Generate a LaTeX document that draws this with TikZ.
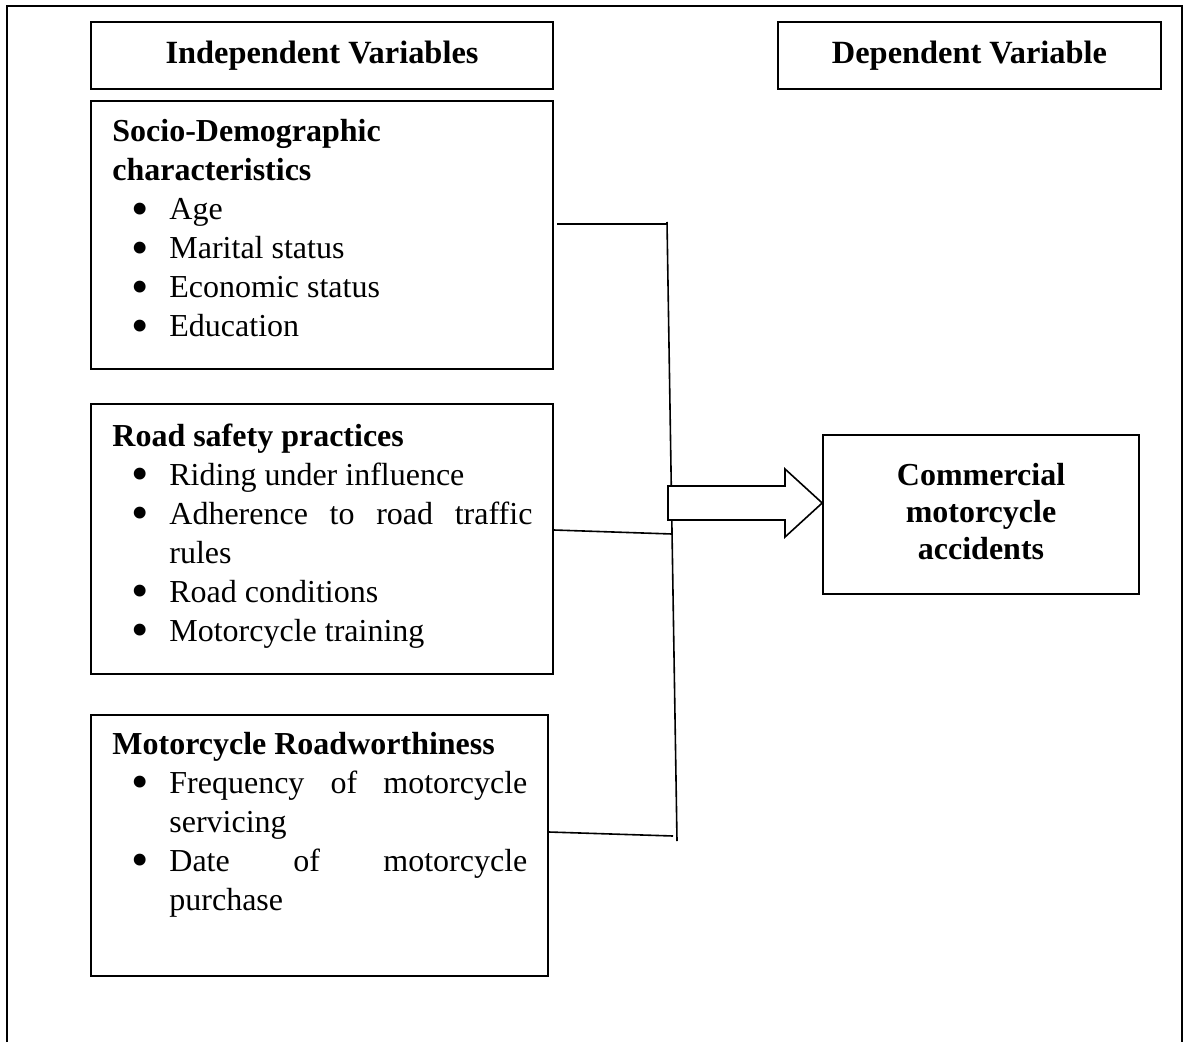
\documentclass[tikz,border=0pt]{standalone}
\usepackage{fontspec}
\usepackage{graphicx}
\setmainfont{Liberation Serif}
\usetikzlibrary{calc}
\newcommand\bigbul{\raisebox{-2.6pt}{\scalebox{1.55}{\textbullet}}}
\newcommand\bitem[1]{\par\noindent\hangindent=28.5pt\hangafter=1\hbox to 28.5pt{\hskip 9.6pt\bigbul\hfil}\ignorespaces#1}
\tikzset{
  box/.style={draw, line width=0.8pt, inner sep=0pt, rectangle},
  txt/.style={anchor=base west, inner sep=0pt, align=justify, font=\fontsize{16}{19.5}\selectfont},
  conn/.style={line width=0.8pt},
}
\begin{document}
\begin{tikzpicture}[x=0.5pt,y=-0.5pt]
\useasboundingbox (0,0) rectangle (1186,1042);
% outer frame
\draw[line width=0.8pt] (7,1042) -- (7,6) -- (1182,6) -- (1182,1042);
% header boxes
\node[box, minimum width=231pt, minimum height=33.5pt, font=\fontsize{16.2}{19.5}\selectfont\bfseries] (iv) at (322,55.5) {Independent Variables};
\node[box, minimum width=191.5pt, minimum height=33.5pt, font=\fontsize{16.2}{19.5}\selectfont\bfseries] (dv) at (969.5,55.5) {Dependent Variable};
% variable boxes
\node[box, minimum width=231pt, minimum height=134pt] (socio) at (322,235) {};
\node[box, minimum width=231pt, minimum height=135pt] (road) at (322,539) {};
\node[box, minimum width=228.5pt, minimum height=130.5pt] (roadw) at (319.5,845.5) {};
\node[box, minimum width=158pt, minimum height=79.5pt] (comm) at (981,514.5) {};
\node[inner sep=0pt, align=center, font=\fontsize{16}{18.5}\selectfont\bfseries] (commtxt) at ($(comm.center)+(0,-3)$) {Commercial\\motorcycle\\accidents};
% texts
\node[txt, text width=210pt] (sociotxt) at (112,142) {\bfseries Socio-Demographic\\characteristics\par\mdseries
 \bitem{Age}\bitem{Marital status}\bitem{Economic status}\bitem{Education}\par};
\node[txt, text width=210pt] (roadtxt) at (112,446) {\bfseries Road safety practices\par\mdseries
 \bitem{Riding under influence}\bitem{Adherence to road traffic\linebreak rules}\bitem{Road conditions}\bitem{Motorcycle training}\par};
\node[txt, text width=207.5pt] (roadwtxt) at (112,754) {\bfseries Motorcycle Roadworthiness\par\mdseries
 \bitem{Frequency of motorcycle\linebreak servicing}\bitem{Date of motorcycle\linebreak purchase}\par};
% connectors
\coordinate (j1) at (667,222);
\coordinate (j3) at (677,841);
\coordinate (s1) at (667,224);
\coordinate (r1) at (672,534);
\coordinate (w1) at (673,836);
\draw[conn] ($(socio.east)+(3,-11)$) -- (s1);
\draw[conn] (j1) -- (j3);
\draw[conn] ($(road.east)+(0,-9)$) -- (r1);
\draw[conn] ($(roadw.east)+(0,-13.5)$) -- (w1);
% block arrow
\draw[line width=0.8pt, fill=white] (668,486) -- (785,486) -- (785,469) -- (comm.west |- 0,503) -- (785,537) -- (785,520) -- (668,520) -- cycle;
\end{tikzpicture}
\end{document}
